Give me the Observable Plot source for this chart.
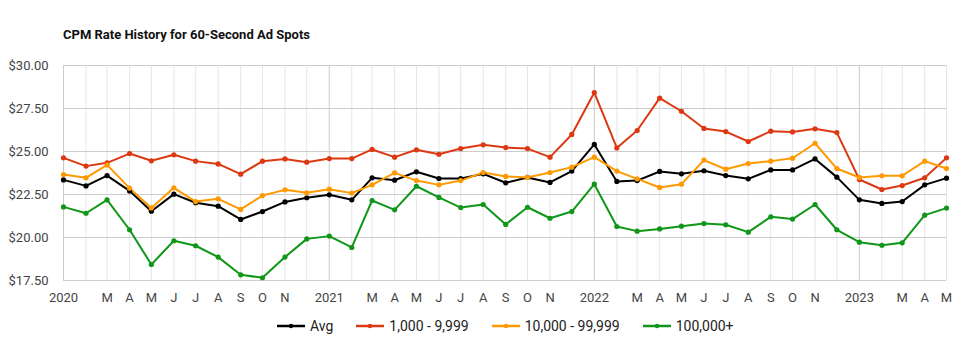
<!DOCTYPE html>
<html>
<head>
<meta charset="utf-8">
<script src="https://cdn.jsdelivr.net/npm/d3@7"></script>
<script src="https://cdn.jsdelivr.net/npm/@observablehq/plot@0.6"></script>
<style>
  body { margin: 0; background: #fff; font-family: Roboto, "Noto Sans", sans-serif; }
  #wrap { position: relative; width: 960px; height: 354px; }
  #title { position: absolute; left: 63px; top: 26px; font-size: 13px; font-weight: bold; color: #111; line-height: 18px; }
  #chart { position: absolute; left: 0; top: 50px; }
  #legend { position: absolute; left: 277px; top: 316px; display: flex; align-items: center; font-size: 14px; color: #222; line-height: 20px; }
  .item { display: flex; align-items: center; margin-right: 23px; }
  .item svg { margin-right: 5px; }
</style>
</head>
<body>
<div id="wrap">
  <div id="title">CPM Rate History for 60-Second Ad Spots</div>
  <div id="chart"></div>
  <div id="legend"></div>
</div>
<script>
const months = [
  "2020-01","2020-02","2020-03","2020-04","2020-05","2020-06","2020-07","2020-08","2020-09","2020-10","2020-11","2020-12",
  "2021-01","2021-02","2021-03","2021-04","2021-05","2021-06","2021-07","2021-08","2021-09","2021-10","2021-11","2021-12",
  "2022-01","2022-02","2022-03","2022-04","2022-05","2022-06","2022-07","2022-08","2022-09","2022-10","2022-11","2022-12",
  "2023-01","2023-02","2023-03","2023-04","2023-05"
];
const tickLabels = [
  "2020","","M","A","M","J","J","A","S","O","N","",
  "2021","","M","A","M","J","J","A","S","O","N","",
  "2022","","M","A","M","J","J","A","S","O","N","",
  "2023","","M","A","M"
];
const avg = [
  23.35,23.00,23.60,22.71,21.53,22.52,22.02,21.82,21.05,21.51,22.07,22.31,
  22.48,22.19,23.47,23.33,23.82,23.43,23.43,23.70,23.18,23.49,23.20,23.86,
  25.41,23.26,23.31,23.84,23.70,23.88,23.60,23.41,23.93,23.93,24.57,23.51,
  22.19,21.98,22.09,23.06,23.45
];
const tier1k = [
  24.63,24.15,24.34,24.88,24.46,24.81,24.44,24.28,23.68,24.44,24.57,24.38,
  24.59,24.59,25.12,24.67,25.10,24.84,25.17,25.39,25.23,25.17,24.67,25.99,
  28.43,25.21,26.22,28.10,27.34,26.34,26.16,25.58,26.18,26.14,26.32,26.10,
  23.37,22.79,23.02,23.47,24.63
];
const tier10k = [
  23.66,23.47,24.22,22.87,21.72,22.89,22.09,22.25,21.63,22.44,22.77,22.60,
  22.81,22.58,23.06,23.76,23.31,23.06,23.31,23.78,23.55,23.49,23.78,24.09,
  24.67,23.86,23.41,22.91,23.10,24.50,23.97,24.30,24.44,24.61,25.48,24.01,
  23.49,23.59,23.59,24.44,24.01
];
const tier100k = [
  21.78,21.41,22.19,20.45,18.43,19.81,19.52,18.86,17.83,17.66,18.86,19.92,
  20.08,19.42,22.15,21.61,22.98,22.33,21.74,21.92,20.76,21.76,21.12,21.51,
  23.10,20.64,20.37,20.50,20.66,20.81,20.74,20.31,21.20,21.07,21.92,20.45,
  19.73,19.55,19.69,21.30,21.71
];
const seriesNames = ["Avg", "1,000 - 9,999", "10,000 - 99,999", "100,000+"];
const seriesColors = ["#000000", "#dc3912", "#ff9900", "#109618"];
const yTicks = [17.5, 20, 22.5, 25, 27.5, 30];

const dates = months.map(m => new Date(m + "-01T00:00:00Z"));
const labelByTime = new Map(dates.map((d, i) => [+d, tickLabels[i]]));
const allValues = [avg, tier1k, tier10k, tier100k];
const rows = [];
allValues.forEach((vals, s) => vals.forEach((v, i) => rows.push({date: dates[i], value: v, series: seriesNames[s]})));

const yearDates = dates.filter(d => d.getUTCMonth() === 0);
const monthDates = dates.filter(d => d.getUTCMonth() !== 0);

const chart = Plot.plot({
  width: 960,
  height: 262,
  marginTop: 15,
  marginBottom: 32,
  marginLeft: 63,
  marginRight: 14,
  style: {fontFamily: "Roboto, sans-serif", fontSize: "13px", color: "#444", background: "#fff"},
  x: {type: "utc", domain: [dates[0], dates[dates.length - 1]], label: null},
  y: {domain: [17.5, 30], label: null},
  color: {domain: seriesNames, range: seriesColors},
  marks: [
    Plot.ruleX(monthDates, {stroke: "#e6e6e6", strokeWidth: 1}),
    Plot.ruleX(yearDates, {stroke: "#cccccc", strokeWidth: 1}),
    Plot.ruleY(yTicks, {stroke: "#cccccc", strokeWidth: 1}),
    Plot.axisY({ticks: yTicks, tickSize: 0, tickPadding: 15, tickFormat: d => "$" + d.toFixed(2), label: null}),
    Plot.axisX({ticks: dates, tickSize: 0, tickPadding: 12, tickFormat: d => labelByTime.get(+d), label: null}),
    Plot.line(rows, {x: "date", y: "value", stroke: "series", z: "series", strokeWidth: 2}),
    Plot.dot(rows, {x: "date", y: "value", fill: "series", r: 2.6})
  ]
});
document.getElementById("chart").appendChild(chart);

const legend = document.getElementById("legend");
seriesNames.forEach((name, i) => {
  const item = document.createElement("div");
  item.className = "item";
  item.innerHTML = `<svg width="28" height="10"><line x1="0" x2="28" y1="5" y2="5" stroke="${seriesColors[i]}" stroke-width="2.5"/><circle cx="14" cy="5" r="2.2" fill="${seriesColors[i]}"/></svg><span>${name}</span>`;
  legend.appendChild(item);
});
</script>
</body>
</html>
